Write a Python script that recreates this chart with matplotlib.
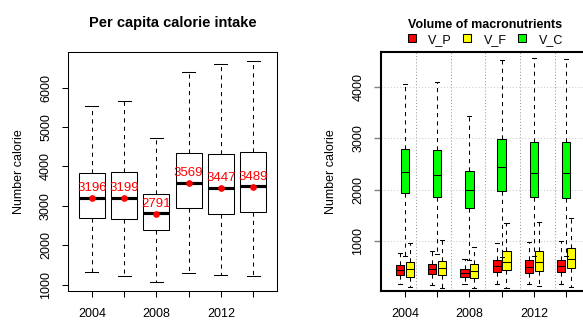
import numpy as np
import matplotlib
matplotlib.use("Agg")
import matplotlib.pyplot as plt
from matplotlib.patches import Patch

plt.rcParams['font.family'] = ['Liberation Sans', 'DejaVu Sans']

# ---- DATA ----
years = [2004, 2006, 2008, 2010, 2012, 2014]

# per capita calories: whisker ends, quartiles, medians, means
cal_lo = [1330, 1213, 1061, 1305, 1247, 1221]
cal_q1 = [2696, 2653, 2373, 2943, 2798, 2831]
cal_med = [3197, 3200, 2805, 3578, 3451, 3505]
cal_q3 = [3822, 3858, 3306, 4331, 4315, 4374]
cal_hi = [5526, 5663, 4712, 6408, 6594, 6680]
cal_mean = [3196, 3199, 2791, 3569, 3447, 3489]

# macronutrient volumes
vp_lo = [170, 142, 156, 156, 156, 162]
vp_q1 = [337, 351, 304, 402, 382, 390]
vp_med = [435, 448, 382, 513, 499, 519]
vp_q3 = [532, 546, 448, 630, 624, 636]
vp_hi = [770, 811, 649, 967, 986, 1006]

vf_lo = [109, 90, 78, 90, 123, 109]
vf_q1 = [304, 331, 285, 435, 421, 468]
vf_med = [448, 468, 421, 597, 585, 643]
vf_q3 = [585, 616, 546, 805, 805, 858]
vf_hi = [967, 1019, 889, 1357, 1376, 1442]

vc_lo = [713, 741, 640, 690, 700, 700]
vc_q1 = [1930, 1864, 1650, 1962, 1845, 1832]
vc_med = [2331, 2280, 1994, 2437, 2320, 2313]
vc_q3 = [2788, 2760, 2365, 2988, 2924, 2916]
vc_hi = [4054, 4086, 3437, 4509, 4554, 4542]

macro_names = ["V_P", "V_F", "V_C"]
macro_colors = ["#ff0000", "#ffff00", "#00ff00"]


def expand(lo, hi, frac=0.04):
    pad = (hi - lo) * frac
    return lo - pad, hi + pad


def make_stats(lo, q1, med, q3, hi):
    return [dict(whislo=a, q1=b, med=c, q3=d, whishi=e, fliers=[])
            for a, b, c, d, e in zip(lo, q1, med, q3, hi)]


pos = np.arange(1, len(years) + 1)
xlim = expand(0.5, len(years) + 0.5)
xlabels = [str(y) if i % 2 == 0 else "" for i, y in enumerate(years)]
dash = (0, (4, 4))

fig = plt.figure(figsize=(5.83, 3.2), dpi=100)
ax1 = fig.add_axes([68 / 583, 29 / 320, 209 / 583, 239 / 320])
ax2 = fig.add_axes([381 / 583, 29 / 320, 209 / 583, 239 / 320])

# ---- LEFT: calorie intake ----
ax1.bxp(make_stats(cal_lo, cal_q1, cal_med, cal_q3, cal_hi), positions=pos,
        widths=0.8, capwidths=0.4, showfliers=False, patch_artist=True,
        boxprops=dict(facecolor="white", edgecolor="black", linewidth=0.75),
        whiskerprops=dict(color="black", linewidth=0.75, linestyle=dash),
        capprops=dict(color="black", linewidth=0.75),
        medianprops=dict(color="black", linewidth=2.25))
ax1.plot(pos, cal_mean, "o", color="red", markersize=3.8, zorder=5)
for x, m in zip(pos, cal_mean):
    ax1.annotate(str(m), (x, m), xytext=(0, 5), textcoords="offset points",
                 ha="center", va="baseline", color="red", fontsize=9.5)

ax1.set_xlim(xlim)
ax1.set_ylim(expand(min(cal_lo), max(cal_hi)))
ax1.set_xticks(pos, xlabels)
ax1.set_yticks([1000, 2000, 3000, 4000, 5000, 6000])
ax1.tick_params(axis="x", length=4.5, width=0.75, labelsize=9, pad=8)
ax1.tick_params(axis="y", length=4.5, width=0.75, labelsize=9, pad=7,
                labelrotation=90)
for lbl in ax1.get_yticklabels():
    lbl.set_va("center")
for s in ax1.spines.values():
    s.set_linewidth(0.75)
ax1.set_ylabel("Number calorie", fontsize=9, labelpad=11)
ax1.set_title("Per capita calorie intake", fontsize=10.5, fontweight="bold", pad=18)

# ---- RIGHT: macronutrients ----
ylim2 = expand(200, 4500)
for k in np.linspace(xlim[0], xlim[1], 7)[1:-1]:
    ax2.axvline(k, color="#999999", linewidth=0.75, linestyle=(0, (1, 2)), zorder=0)
for t in [1000, 2000, 3000, 4000]:
    ax2.axhline(t, color="#cccccc", linewidth=0.75, linestyle=(0, (1, 2)), zorder=0)

series = [
    (vp_lo, vp_q1, vp_med, vp_q3, vp_hi),
    (vf_lo, vf_q1, vf_med, vf_q3, vf_hi),
    (vc_lo, vc_q1, vc_med, vc_q3, vc_hi),
]
offsets = [-0.15, 0.15, 0.0]
for (lo, q1, med, q3, hi), off, col in zip(series, offsets, macro_colors):
    ax2.bxp(make_stats(lo, q1, med, q3, hi), positions=pos + off,
            widths=0.26, capwidths=0.13, showfliers=False, patch_artist=True,
            manage_ticks=False,
            boxprops=dict(facecolor=col, edgecolor="black", linewidth=0.75),
            whiskerprops=dict(color="black", linewidth=0.75, linestyle=dash),
            capprops=dict(color="black", linewidth=0.75),
            medianprops=dict(color="black", linewidth=0.75))

ax2.set_xlim(xlim)
ax2.set_ylim(ylim2)
ax2.set_xticks(pos, xlabels)
ax2.set_yticks([1000, 2000, 3000, 4000])
ax2.tick_params(axis="x", length=4.5, width=0.75, labelsize=9, pad=8)
ax2.tick_params(axis="y", length=5, width=1, color="#808080", labelsize=9,
                pad=7, labelrotation=90)
for lbl in ax2.get_yticklabels():
    lbl.set_va("center")
for s in ax2.spines.values():
    s.set_linewidth(1.5)
ax2.set_ylabel("Number calorie", fontsize=9, labelpad=11)

handles = [Patch(facecolor=c, edgecolor="black", linewidth=0.75) for c in macro_colors]
ax2.legend(handles, macro_names, ncol=3, loc="lower center",
           bbox_to_anchor=(0.5, 1.0), frameon=False, fontsize=9,
           title="Volume of macronutrients",
           title_fontproperties=dict(weight="bold", size=9),
           handlelength=0.65, handleheight=0.6, handletextpad=1.0,
           columnspacing=0.9, labelspacing=0.2,
           borderaxespad=0.3, borderpad=0.2)

fig.savefig("out.png", dpi=100)
